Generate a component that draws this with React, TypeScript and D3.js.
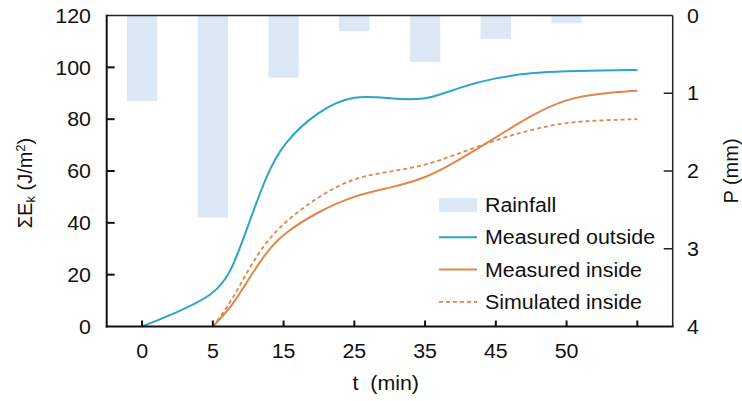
import React from 'react';
import * as d3 from 'd3';

// ---- data ----
const categories = ['0', '5', '15', '25', '35', '45', '50', ''];
const rainfall = [1.1, 2.6, 0.8, 0.2, 0.6, 0.3, 0.1];

const outsidePos = [0, 0.5, 1, 1.25, 1.5, 1.75, 2, 2.5, 3, 3.5, 4, 4.5, 5, 5.5, 6, 6.5, 7];
const outsideVals = [0, 5.5, 12, 20, 39, 58, 71, 83.5, 89.5, 88, 87, 92.5, 96, 97.9, 98.5, 98.8, 99];

const insidePos = [1, 1.25, 1.5, 1.75, 2, 2.5, 3, 3.5, 4, 4.5, 5, 5.5, 6, 6.5, 7];
const measuredInside = [0, 7, 18, 28.5, 36, 44.5, 50.5, 53.5, 57, 64.5, 73, 81.5, 88, 90, 91];
const simulatedInside = [0, 9, 22, 32.5, 40, 50.5, 57.5, 59.8, 62, 67, 72, 76, 78.8, 79.6, 80];

const leftTicks = [0, 20, 40, 60, 80, 100, 120];
const rightTicks = [0, 1, 2, 3, 4];

const legendItems = ['Rainfall', 'Measured outside', 'Measured inside', 'Simulated inside'];

// ---- style ----
const W = 742, H = 401;
const L = 106.7, R = 672.7, T = 15.5, B = 326.5;
const cOut = '#2ba6c6';
const cIn = '#e0864a';
const cBar = '#dce8f5';
const FONT = '"Liberation Sans", Arial, Helvetica, sans-serif';
const FS = 20;
const SX = 1.07;

const Txt = ({ x, y, anchor = 'start', children, baseline }: any) => (
  <text
    transform={`translate(${x},${y}) scale(${SX},1)`}
    textAnchor={anchor}
    dominantBaseline={baseline}
    fontFamily={FONT}
    fontSize={FS}
    fill="#111"
    style={{ whiteSpace: 'pre' }}
  >
    {children}
  </text>
);

export default function App() {
  const x = d3.scaleLinear().domain([-0.5, categories.length - 0.5]).range([L, R]);
  const step = x(1) - x(0);
  const bw = step * 0.43;
  const y = d3.scaleLinear().domain([0, 120]).range([B, T]);
  const yP = d3.scaleLinear().domain([0, 4]).range([T, B]);

  const line = d3
    .line<[number, number]>()
    .x((d) => x(d[0]))
    .y((d) => y(d[1]))
    .curve(d3.curveBasis);

  const outD = line(outsidePos.map((p, i) => [p, outsideVals[i]]) as any) || '';
  const inD = line(insidePos.map((p, i) => [p, measuredInside[i]]) as any) || '';
  const simD = line(insidePos.map((p, i) => [p, simulatedInside[i]]) as any) || '';

  const legX = 439, legY0 = 205, legDY = 32.3;

  return (
    <svg width={W} height={H} style={{ position: 'absolute', left: 0, top: 0, background: '#fff' }}>
      {/* bars */}
      {rainfall.map((v, i) => (
        <rect key={i} x={x(i) - bw / 2} y={yP(0)} width={bw} height={yP(v) - yP(0)} fill={cBar} />
      ))}

      {/* lines */}
      <path d={outD} fill="none" stroke={cOut} strokeWidth={2} />
      <path d={inD} fill="none" stroke={cIn} strokeWidth={2} />
      <path d={simD} fill="none" stroke={cIn} strokeWidth={1.8} strokeDasharray="4,3" />

      {/* frame */}
      <line x1={L} y1={T} x2={R} y2={T} stroke="#222" strokeWidth={1.5} />
      <line x1={R} y1={T} x2={R} y2={B} stroke="#222" strokeWidth={1.5} />
      <line x1={L} y1={T - 0.7} x2={L} y2={B + 1} stroke="#111" strokeWidth={2} />
      <line x1={L - 1} y1={B} x2={R + 1} y2={B} stroke="#111" strokeWidth={2} />

      {/* left ticks */}
      {leftTicks.map((t) => (
        <g key={'l' + t}>
          {t > 0 && t < 120 && <line x1={L} x2={L + 8} y1={y(t)} y2={y(t)} stroke="#111" strokeWidth={2} />}
          <Txt x={91} y={y(t)} anchor="end" baseline="central">{t}</Txt>
        </g>
      ))}

      {/* right ticks */}
      {rightTicks.map((t) => (
        <g key={'r' + t}>
          {t > 0 && t < 4 && <line x1={R - 9} x2={R} y1={yP(t)} y2={yP(t)} stroke="#222" strokeWidth={1.5} />}
          <Txt x={687} y={yP(t)} anchor="start" baseline="central">{t}</Txt>
        </g>
      ))}

      {/* bottom ticks */}
      {categories.map((c, i) => (
        <g key={'b' + i}>
          <line x1={x(i)} x2={x(i)} y1={B} y2={B - 6} stroke="#111" strokeWidth={2} />
          {c !== '' && <Txt x={x(i)} y={358} anchor="middle">{c}</Txt>}
        </g>
      ))}

      {/* axis titles */}
      <Txt x={(L + R) / 2 - 4} y={390} anchor="middle">
        {'t  (min)'}
      </Txt>
      <text
        transform="translate(32,183) rotate(-90)"
        textAnchor="middle"
        fontFamily={FONT}
        fontSize={FS}
        fill="#111"
      >
        {'ΣE'}
        <tspan fontSize={13} dy={3}>k</tspan>
        <tspan dy={-3}>{' (J/m'}</tspan>
        <tspan fontSize={13} dy={-7}>2</tspan>
        <tspan dy={7}>)</tspan>
      </text>
      <text
        transform="translate(738,171) rotate(-90)"
        textAnchor="middle"
        fontFamily={FONT}
        fontSize={FS}
        fill="#111"
      >
        P (mm)
      </text>

      {/* legend */}
      {legendItems.map((name, i) => {
        const cy = legY0 + i * legDY;
        return (
          <g key={name}>
            {i === 0 && <rect x={legX} y={cy - 7} width={38} height={14} fill={cBar} />}
            {i === 1 && <line x1={legX} x2={legX + 38} y1={cy} y2={cy} stroke={cOut} strokeWidth={2} />}
            {i === 2 && <line x1={legX} x2={legX + 38} y1={cy} y2={cy} stroke={cIn} strokeWidth={2} />}
            {i === 3 && (
              <line x1={legX} x2={legX + 38} y1={cy} y2={cy} stroke={cIn} strokeWidth={1.8} strokeDasharray="4,3" />
            )}
            <Txt x={485} y={cy + 7} anchor="start">{name}</Txt>
          </g>
        );
      })}
    </svg>
  );
}
